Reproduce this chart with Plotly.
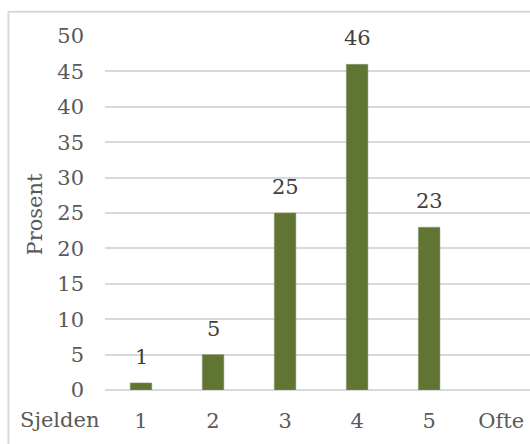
import plotly.graph_objects as go

# Data
categories = ["1", "2", "3", "4", "5", "Ofte"]
values = [1, 5, 25, 46, 23, None]
y_ticks = [0, 5, 10, 15, 20, 25, 30, 35, 40, 45, 50]

W, H = 530, 444
ML, MR, MT, MB = 105, 0, 36, 54
plot_w = W - ML - MR
plot_h = H - MT - MB

font_family = "DejaVu Serif"
font_size = 21
text_color = "#595959"
label_color = "#404040"
grid_color = "#d9d9d9"
bar_color = "#617532"

fig = go.Figure()
fig.add_trace(go.Bar(
    x=categories,
    y=values,
    width=0.3,
    marker=dict(color=bar_color, line=dict(color="#8a9a6a", width=0.5)),
    hoverinfo="x+y",
))

# value labels above bars (category index positions)
for i, v in enumerate(values):
    if v is None:
        continue
    fig.add_annotation(
        x=i, y=v, text=str(v), showarrow=False,
        yanchor="bottom", yshift=12,
        font=dict(family=font_family, size=font_size, color=label_color),
    )

def px_x(px):
    return (px - ML) / plot_w

def px_y(py):
    return (H - MB - py) / plot_h

# label at the low end of the scale
fig.add_annotation(
    x=px_x(59), y=px_y(420), xref="paper", yref="paper",
    text="Sjelden", showarrow=False, xanchor="center", yanchor="middle",
    font=dict(family=font_family, size=font_size, color=text_color),
)
# y-axis title
fig.add_annotation(
    x=px_x(34.5), y=px_y(214), xref="paper", yref="paper",
    text="Prosent", showarrow=False, textangle=-90,
    xanchor="center", yanchor="middle",
    font=dict(family=font_family, size=font_size, color=text_color),
)

# chart-area border (top and left visible)
fig.add_shape(
    type="rect", xref="paper", yref="paper",
    x0=px_x(8.5), x1=px_x(560), y0=px_y(470), y1=px_y(11.7),
    line=dict(color=grid_color, width=2), layer="below",
)

fig.update_layout(
    width=W, height=H,
    margin=dict(l=ML, r=MR, t=MT, b=MB, pad=0),
    paper_bgcolor="white", plot_bgcolor="white",
    showlegend=False,
    bargap=0.7,
    font=dict(family=font_family, size=font_size, color=text_color),
)
fig.update_xaxes(
    type="category", range=[-0.5, 5.4],
    showgrid=False, showline=False, ticks="",
    ticklabelstandoff=16,
    tickfont=dict(family=font_family, size=font_size, color=text_color),
)
fig.update_yaxes(
    range=[0, 50], tickvals=y_ticks,
    showgrid=True, gridcolor=grid_color, gridwidth=1.5,
    zeroline=True, zerolinecolor=grid_color, zerolinewidth=1.5,
    showline=False, ticks="",
    ticklabelstandoff=20,
    tickfont=dict(family=font_family, size=font_size, color=text_color),
)

fig.write_html("out.html")
